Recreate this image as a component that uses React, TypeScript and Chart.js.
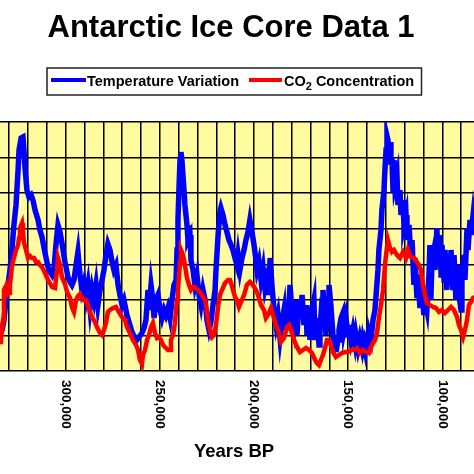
import React, { useEffect, useRef } from 'react';
import { Chart, registerables } from 'chart.js';

Chart.register(...registerables);

// ---- Data (years BP, temperature variation °C) ----
const tempYears = [
  335400, 333800, 332800, 331700, 330700, 329600, 328500, 327500, 326400, 325300, 324800, 323700, 322700, 322200, 321600, 320600,
  319500, 318400, 317400, 316300, 314700, 313700, 312600, 311000, 309400, 308400, 307300, 306200, 305200, 304100, 303000, 302000,
  300400, 298800, 297700, 296700, 295600, 294500, 293500, 292400, 291400, 290300, 289200, 288200, 287100, 286000, 285000, 283900,
  282900, 281800, 280700, 279700, 278600, 277600, 276500, 275400, 274400, 273300, 272200, 271200, 270100, 269100, 267500, 265900,
  264800, 263200, 262200, 260600, 259500, 258400, 257400, 256300, 255800, 254700, 253700, 253100, 252100, 251000, 249900, 248900,
  247800, 246800, 245700, 244600, 243600, 242500, 241400, 240900, 240400, 239800, 239300, 238800, 238300, 237200, 236700, 235600,
  235100, 234000, 233500, 232400, 231400, 230300, 229200, 228200, 227100, 226000, 225000, 223900, 222900, 221800, 220700, 220200,
  219100, 218100, 217600, 216500, 215400, 214400, 213300, 212200, 211200, 210100, 209100, 208500, 207500, 206400, 205300, 204300,
  203200, 202200, 201100, 200000, 199000, 198400, 197400, 196300, 195200, 194200, 193100, 192100, 191500, 190500, 189400, 188300,
  187300, 186200, 185200, 184100, 183600, 182500, 182000, 180900, 179900, 178800, 177700, 177200, 176100, 175600, 174500, 173500,
  172400, 171900, 170800, 170300, 169200, 168200, 167600, 166600, 165500, 165000, 163900, 163400, 162300, 161800, 160700, 160200,
  159200, 158100, 157000, 156500, 155400, 154900, 153800, 152800, 152300, 151200, 150100, 149600, 148500, 147500, 146400, 145900,
  144800, 143800, 142700, 142200, 141100, 140600, 139500, 139000, 137900, 136800, 135800, 135200, 134200, 133700, 132600, 132100,
  131000, 130500, 129900, 129400, 128900, 128300, 127800, 127300, 126800, 126200, 125700, 125200, 124100, 123600, 122500, 122000,
  120900, 120400, 119300, 118800, 117700, 116700, 116100, 115100, 114500, 113500, 113000, 111900, 110800, 109800, 109200, 108200,
  107100, 106600, 106100, 105500, 104500, 103900, 102900, 102300, 101300, 100700, 100200, 99100, 98600, 97600, 97000, 96000,
  95400, 94400, 93800, 92800, 92200, 91200, 90100, 89600, 88500, 88000, 86900, 86400, 85300, 84800, 83700, 82700,
];
const tempValues = [
  -6.55, -6.4, -5.9, -4.9, -4.15, -3.4, -2.3, -1.15, -0.15, 1.6, 2.6, 3.2, 3.25, 2.6, 1.7, 0.6,
  0.25, 0.35, 0.1, -0.4, -0.9, -1.4, -1.75, -2.55, -3.25, -3.5, -3.65, -3.3, -2.15, -1.15, -1.5, -2.05,
  -3.0, -3.75, -4.0, -4.15, -3.9, -3.15, -2.5, -3.65, -4.4, -4.0, -4.75, -4.15, -5.3, -4.4, -4.9, -4.15,
  -5.15, -4.4, -3.9, -3.4, -2.65, -2.1, -2.4, -3.0, -3.4, -3.15, -4.15, -4.65, -5.15, -4.9, -5.65, -6.15,
  -6.5, -6.8, -6.9, -6.7, -6.55, -6.3, -5.9, -4.4, -5.4, -4.15, -4.9, -5.8, -4.9, -4.65, -5.4, -5.8,
  -5.4, -5.65, -5.3, -5.8, -4.9, -4.15, -3.9, -2.4, -0.9, 0.85, 2.1, 2.5, 2.1, 0.6, -0.15, -1.15,
  -1.9, -1.65, -2.9, -3.4, -4.15, -3.65, -4.65, -5.15, -4.4, -4.9, -5.9, -6.4, -6.0, -5.15, -4.4, -3.4,
  -1.65, -0.5, -0.3, -0.65, -1.15, -1.5, -1.9, -2.15, -2.4, -2.8, -3.15, -2.65, -3.4, -2.8, -2.4, -1.9,
  -1.5, -0.9, -1.5, -2.15, -2.9, -3.4, -3.0, -3.9, -3.3, -4.3, -3.8, -4.65, -2.8, -4.15, -5.4, -6.15,
  -5.65, -6.8, -6.0, -5.4, -6.4, -5.15, -6.4, -4.15, -5.4, -6.15, -4.9, -6.65, -4.9, -5.8, -4.65, -6.15,
  -5.15, -6.65, -5.65, -6.9, -5.4, -4.9, -6.9, -5.8, -7.15, -6.4, -4.9, -4.4, -5.9, -6.65, -4.9, -4.15,
  -5.15, -6.65, -7.15, -7.5, -6.9, -6.4, -5.8, -5.55, -6.4, -5.8, -6.65, -6.15, -6.9, -6.4, -7.05, -6.65,
  -7.3, -6.8, -7.3, -6.9, -7.4, -6.9, -7.15, -6.5, -6.9, -5.9, -5.4, -4.65, -3.4, -2.4, -1.4, -0.4,
  0.6, 1.6, 2.6, 3.3, 3.1, 2.35, 3.0, 1.85, 2.2, 0.6, 2.1, 0.85, 1.35, -0.15, 0.6, -0.65,
  0.1, -1.15, -0.65, -1.9, -1.15, -2.8, -1.9, -4.15, -2.8, -4.8, -3.65, -5.3, -4.5, -5.65, -4.9, -5.4,
  -3.65, -2.15, -4.9, -2.9, -2.4, -3.4, -1.3, -2.9, -1.65, -3.65, -2.15, -3.9, -2.4, -4.4, -2.65, -3.9,
  -2.4, -4.4, -2.65, -4.9, -3.15, -4.65, -5.4, -3.65, -2.65, -3.9, -1.3, -2.4, -0.9, -1.65, -0.65, -1.5,
];

// ---- Data (years BP, CO2 ppmv) ----
const co2Years = [
  335400, 334400, 333300, 332800, 331700, 331200, 330100, 329600, 328500, 327500, 326400, 325300, 324800, 324300, 323200, 322700,
  322200, 321100, 320000, 319000, 317900, 316800, 315800, 314700, 313700, 312600, 311000, 309400, 308400, 307300, 305700, 304600,
  304100, 303000, 302000, 300400, 299300, 297700, 296700, 295600, 294500, 293500, 292400, 290800, 289200, 288200, 287100, 286000,
  284500, 283400, 281800, 280700, 279700, 278600, 277600, 276500, 274900, 273300, 271700, 270100, 268500, 267500, 265900, 264800,
  263700, 262700, 261600, 260600, 259500, 259000, 257900, 256800, 255800, 254700, 253700, 252600, 251500, 250500, 249400, 248300,
  247300, 245700, 244600, 244100, 243000, 242000, 240900, 240400, 239300, 238800, 237700, 236700, 235600, 234500, 233500, 232400,
  231400, 229800, 228200, 227100, 226000, 225000, 224500, 223400, 222300, 221300, 220200, 219100, 218100, 217000, 215400, 213800,
  212800, 212200, 211200, 210100, 209100, 208000, 206900, 205300, 203800, 202200, 200600, 199000, 197900, 196300, 194700, 193700,
  192600, 191000, 189900, 188900, 187300, 185700, 184100, 182500, 181400, 180400, 178800, 177200, 175600, 174000, 172400, 170800,
  169200, 167600, 166600, 165500, 164500, 163400, 162300, 161300, 160200, 159200, 158100, 156500, 154900, 153300, 151700, 150100,
  148500, 146900, 145300, 143800, 142200, 140600, 139000, 137400, 135800, 134700, 133700, 132600, 131500, 130500, 129900, 128900,
  127800, 126800, 125700, 124100, 122500, 120900, 119300, 118300, 116700, 115100, 113500, 112400, 111400, 110300, 109200, 108200,
  106600, 105000, 103400, 101800, 100200, 98600, 97000, 95400, 93800, 92200, 91200, 90100, 89000, 88000, 86900, 85900,
  84800, 83700, 82700,
];
const co2Values = [
  206, 207.4, 221.4, 242.4, 245.2, 238.9, 240.3, 245.9, 259.9, 264.8, 270.4, 273.9, 278.8, 285.8, 289.3, 283,
  276, 270.4, 264.8, 266.2, 264.8, 264.8, 262, 262, 259.9, 258.5, 254.3, 249.4, 247.3, 244.5, 243.8, 256.4,
  264.8, 259.9, 251.5, 246.6, 241, 236.8, 230.5, 227, 235.4, 238.2, 239.6, 235.4, 235.4, 231.9, 227, 223.5,
  220, 216.5, 212.3, 210.9, 214.4, 219.3, 227, 228.4, 229.8, 230.5, 227, 223.5, 221.4, 216.5, 212.3, 208.8,
  206, 203.9, 200.4, 193.4, 190.6, 196.9, 200.4, 207.4, 210.9, 216.5, 219.3, 212.3, 208.8, 209.5, 207.4, 203.9,
  202.5, 200.4, 200.4, 207.4, 210.9, 219.3, 235.4, 242.4, 262, 270.4, 266.9, 259.9, 250.8, 245.9, 242.4, 244.5,
  244.5, 242.4, 240.3, 237.5, 235.4, 227, 221.4, 214.4, 209.5, 210.9, 217.9, 230.5, 238.9, 242.4, 247.3, 249.4,
  249.4, 247.3, 242.4, 237.5, 235.4, 230.5, 234, 238.9, 245.9, 248, 245.9, 242.4, 238.9, 231.9, 228.4, 222.8,
  224.9, 229.8, 224.9, 220, 214.4, 206, 208.8, 216.5, 217.9, 214.4, 207.4, 202.5, 199, 200.4, 201.8, 200.4,
  198.3, 193.4, 191.3, 189.9, 193.4, 196.9, 201.8, 207.4, 207.4, 203.9, 199, 195.5, 196.9, 198.3, 199, 199,
  200.4, 200.4, 201.8, 198.3, 200.4, 199, 198.3, 203.9, 207.4, 212.3, 222.8, 231.9, 242.4, 259.9, 266.9, 277.4,
  271.8, 269, 270.4, 266.9, 264.8, 269, 264.8, 270.4, 265.5, 264.8, 262, 259.9, 256.4, 245.9, 238.9, 233.3,
  231.9, 230.5, 229.8, 227, 228.4, 226.3, 228.4, 230.5, 228.4, 223.5, 217.9, 214.4, 209.5, 214.4, 221.4, 231.9,
  234, 236.8, 237.5,
];

const xTickValues = [300000, 250000, 200000, 150000, 100000];
const xTickLabels = ['300,000', '250,000', '200,000', '150,000', '100,000'];
const chartTitle = 'Antarctic Ice Core Data 1';
const xAxisTitle = 'Years BP';
const tempLabel = 'Temperature Variation';
const co2Label = ['CO', '2', ' Concentration'];

const FONT = '"Liberation Sans", Arial, sans-serif';

export default function App() {
  const ref = useRef<HTMLCanvasElement>(null);

  useEffect(() => {
    document.body.style.margin = '0';
    const canvas = ref.current;
    if (!canvas) return;

    const decor = {
      id: 'decor',
      beforeDraw(chart: any) {
        const { ctx, chartArea: a } = chart;
        ctx.save();
        ctx.fillStyle = '#ffffff';
        ctx.fillRect(0, 0, chart.width, chart.height);
        ctx.fillStyle = '#FFFB9E';
        ctx.fillRect(a.left, a.top, a.right - a.left, a.bottom - a.top);
        ctx.restore();
      },
      afterDraw(chart: any) {
        const { ctx } = chart;
        const xs = chart.scales.x;
        ctx.save();
        ctx.fillStyle = '#000';
        // Title
        ctx.font = `bold 31px ${FONT}`;
        ctx.textAlign = 'center';
        ctx.textBaseline = 'alphabetic';
        ctx.fillText(chartTitle, 231, 37);

        // Legend box
        ctx.lineWidth = 1.5;
        ctx.strokeStyle = '#222';
        ctx.strokeRect(47, 68, 374.5, 27);
        ctx.lineWidth = 4;
        ctx.strokeStyle = '#0000FF';
        ctx.beginPath();
        ctx.moveTo(51, 80);
        ctx.lineTo(86, 80);
        ctx.stroke();
        ctx.strokeStyle = '#FF0000';
        ctx.beginPath();
        ctx.moveTo(249, 80);
        ctx.lineTo(282, 80);
        ctx.stroke();
        ctx.textAlign = 'left';
        ctx.font = `bold 14.5px ${FONT}`;
        ctx.fillText(tempLabel, 87, 86);
        let lx = 284;
        ctx.fillText(co2Label[0], lx, 86);
        lx += ctx.measureText(co2Label[0]).width;
        ctx.font = `bold 11px ${FONT}`;
        ctx.fillText(co2Label[1], lx, 90);
        lx += ctx.measureText(co2Label[1]).width;
        ctx.font = `bold 14.5px ${FONT}`;
        ctx.fillText(co2Label[2], lx, 86);

        // X tick labels, rotated clockwise
        ctx.font = `bold 13.5px ${FONT}`;
        ctx.textAlign = 'left';
        ctx.textBaseline = 'middle';
        xTickValues.forEach((v, i) => {
          const px = xs.getPixelForValue(v);
          ctx.save();
          ctx.translate(px, 380);
          ctx.rotate(Math.PI / 2);
          ctx.fillText(xTickLabels[i], 0, 0);
          ctx.restore();
        });

        // X axis title
        ctx.font = `bold 18.5px ${FONT}`;
        ctx.textAlign = 'center';
        ctx.textBaseline = 'alphabetic';
        ctx.fillText(xAxisTitle, 234, 457);
        ctx.restore();
      },
    };

    const chart = new Chart(canvas, {
      type: 'line',
      data: {
        datasets: [
          {
            label: 'CO2 Concentration',
            data: co2Years.map((x, i) => ({ x, y: co2Values[i] })),
            borderColor: '#FF0000',
            borderWidth: 4.5,
            pointRadius: 0,
            tension: 0,
            yAxisID: 'yC',
            order: 1,
          },
          {
            label: tempLabel,
            data: tempYears.map((x, i) => ({ x, y: tempValues[i] })),
            borderColor: '#0000FF',
            borderWidth: 5.5,
            pointRadius: 0,
            tension: 0,
            yAxisID: 'yT',
            order: 2,
          },
        ],
      },
      options: {
        responsive: false,
        animation: false,
        events: [],
        layout: { padding: { top: 122, bottom: 103, left: 0, right: 0 } },
        plugins: {
          legend: { display: false },
          title: { display: false },
          tooltip: { enabled: false },
        },
        scales: {
          x: {
            type: 'linear',
            reverse: true,
            min: 83200,
            max: 334900,
            afterBuildTicks: (s: any) => {
              const t: any[] = [];
              for (let v = Math.ceil(s.min / 10000) * 10000; v <= s.max; v += 10000) t.push({ value: v });
              s.ticks = t;
            },
            grid: { color: '#000', lineWidth: 1.5, drawTicks: false },
            border: { display: false },
            ticks: { display: false },
          },
          yT: {
            type: 'linear',
            position: 'left',
            min: -8.45,
            max: 4,
            afterBuildTicks: (s: any) => {
              const t: any[] = [];
              for (let i = 0; i <= 7; i++) t.push({ value: s.min + (i * (s.max - s.min)) / 7 });
              s.ticks = t;
            },
            grid: { color: '#000', lineWidth: 1.5, drawTicks: false },
            border: { display: false },
            ticks: { display: false },
          },
          yC: {
            type: 'linear',
            display: false,
            min: 185.7,
            max: 360,
          },
        },
      },
      plugins: [decor],
    } as any);

    return () => chart.destroy();
  }, []);

  return (
    <div style={{ position: 'absolute', left: 0, top: 0, width: 474, height: 474, background: '#fff' }}>
      <canvas ref={ref} width={474} height={474} style={{ display: 'block' }} />
    </div>
  );
}
